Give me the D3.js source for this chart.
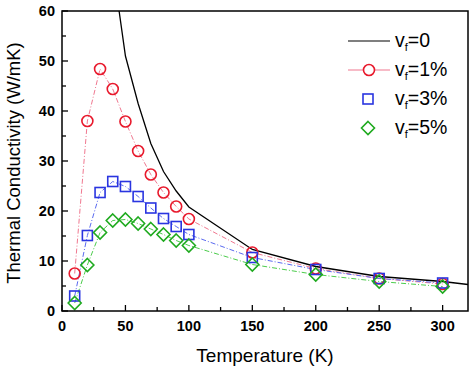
<!DOCTYPE html>
<html><head><meta charset="utf-8">
<script src="https://cdn.jsdelivr.net/npm/d3@7"></script>
<style>body{margin:0;background:#fff}svg{display:block}</style>
</head><body>
<script>
const temps = [10,20,30,40,50,60,70,80,90,100,150,200,250,300];
const vf1 = [7.5,38,48.4,44.4,37.9,32,27.3,23.7,20.9,18.4,11.7,8.5,6.5,5.4];
const vf3 = [3.0,15.1,23.7,25.9,24.9,22.9,20.6,18.5,16.9,15.3,10.7,8.3,6.5,5.6];
const vf5 = [1.6,9.2,15.7,18.1,18.3,17.5,16.4,15.3,14.1,13.1,9.3,7.3,5.9,4.9];
const pureT = [40,45,50,60,70,80,90,100,150,200,250,300,320];
const pureK = [70,60,51,41.5,33.5,27.9,24,20.8,12.3,8.9,6.9,5.9,5.3];
const xTicks = [0,50,100,150,200,250,300];
const yTicks = [0,10,20,30,40,50,60];
const legendLabels = ["0","1%","3%","5%"];

const W=474,H=368;
const m={l:62,r:6,t:11,b:57};
const svg=d3.select("body").append("svg").attr("width",W).attr("height",H);
const x=d3.scaleLinear().domain([0,320]).range([m.l,W-m.r]);
const y=d3.scaleLinear().domain([0,60]).range([H-m.b,m.t]);
const font="Liberation Sans, Arial, sans-serif";

svg.append("clipPath").attr("id","clip").append("rect")
  .attr("x",x(0)).attr("y",y(60)).attr("width",x(320)-x(0)).attr("height",y(0)-y(60));

const g=svg.append("g");
const xMinor=d3.range(25,320,50);
const yMinor=d3.range(5,60,10);
g.selectAll(".xt").data(xTicks.concat(xMinor)).join("line")
  .attr("x1",d=>x(d)).attr("x2",d=>x(d)).attr("y1",y(0)).attr("y2",d=>y(0)-(d%50===0?6:4))
  .attr("stroke","#000").attr("stroke-width",1.3);
g.selectAll(".yt").data(yTicks.concat(yMinor)).join("line")
  .attr("y1",d=>y(d)).attr("y2",d=>y(d)).attr("x1",x(0)).attr("x2",d=>x(0)+(d%10===0?6:4))
  .attr("stroke","#000").attr("stroke-width",1.3);
g.selectAll(".xl").data(xTicks).join("text").attr("x",d=>x(d)).attr("y",y(0)+20)
  .attr("text-anchor","middle").attr("font-family",font).attr("font-weight","bold").attr("font-size",14.5).text(d=>d);
g.selectAll(".yl").data(yTicks).join("text").attr("x",x(0)-7).attr("y",d=>y(d)+5)
  .attr("text-anchor","end").attr("font-family",font).attr("font-weight","bold").attr("font-size",14.5).text(d=>d);

svg.append("text").attr("x",(x(0)+x(320))/2).attr("y",H-6).attr("text-anchor","middle")
  .attr("font-family",font).attr("font-size",19).text("Temperature (K)");
svg.append("text").attr("transform",`translate(20,${(y(0)+y(60))/2+2}) rotate(-90)`).attr("text-anchor","middle")
  .attr("font-family",font).attr("font-size",18.5).text("Thermal Conductivity (W/mK)");

const line=d3.line().x(d=>x(d[0])).y(d=>y(d[1]));
const plot=svg.append("g").attr("clip-path","url(#clip)");
const series=[
  {vals:vf1,color:"#e8192c",lc:"#f07890",shape:"circle"},
  {vals:vf3,color:"#2a35e0",lc:"#5a6af0",shape:"square"},
  {vals:vf5,color:"#1faa1f",lc:"#4ccc4c",shape:"diamond"}
];
plot.append("path").attr("d",line(pureT.map((t,i)=>[t,pureK[i]]))).attr("fill","none").attr("stroke","#000").attr("stroke-width",1.3);
series.forEach(s=>{
  plot.append("path").attr("d",line(temps.map((t,i)=>[t,s.vals[i]]))).attr("fill","none")
    .attr("stroke",s.lc).attr("stroke-width",1).attr("stroke-dasharray","5,2,1,2");
});
function marker(sel,shape,color,cx,cy){
  if(shape==="circle") sel.append("circle").attr("cx",cx).attr("cy",cy).attr("r",5.5).attr("fill","none").attr("stroke",color).attr("stroke-width",1.6);
  else if(shape==="square") sel.append("rect").attr("x",cx-5).attr("y",cy-5).attr("width",10).attr("height",10).attr("fill","none").attr("stroke",color).attr("stroke-width",1.6);
  else sel.append("path").attr("d",`M${cx},${cy-6.5}L${cx+6.5},${cy}L${cx},${cy+6.5}L${cx-6.5},${cy}Z`).attr("fill","none").attr("stroke",color).attr("stroke-width",1.6);
}
const mk=svg.append("g");
series.forEach(s=>{temps.forEach((t,i)=>marker(mk,s.shape,s.color,x(t),y(s.vals[i])));});

svg.append("rect").attr("x",x(0)).attr("y",y(60)).attr("width",x(320)-x(0)).attr("height",y(0)-y(60))
  .attr("fill","none").attr("stroke","#000").attr("stroke-width",1.5);

const lg=svg.append("g");
const ly=[41,70,99,128];
lg.append("line").attr("x1",348).attr("x2",390).attr("y1",ly[0]).attr("y2",ly[0]).attr("stroke","#000").attr("stroke-width",1.2);
lg.append("line").attr("x1",348).attr("x2",390).attr("y1",ly[1]).attr("y2",ly[1]).attr("stroke",series[0].lc).attr("stroke-width",1.2);
lg.append("circle").attr("cx",369).attr("cy",ly[1]).attr("r",5.5).attr("fill","#fff").attr("stroke",series[0].color).attr("stroke-width",1.6);
marker(lg,"square",series[1].color,368,ly[2]);
marker(lg,"diamond",series[2].color,368,ly[3]);
legendLabels.forEach((l,i)=>{
  const t=lg.append("text").attr("x",395).attr("y",ly[i]+6).attr("font-family",font).attr("font-size",19.5);
  t.append("tspan").text("v");
  t.append("tspan").attr("font-size",11).attr("dy",4).text("f");
  t.append("tspan").attr("dy",-4).text("="+l);
});
</script>
</body></html>
